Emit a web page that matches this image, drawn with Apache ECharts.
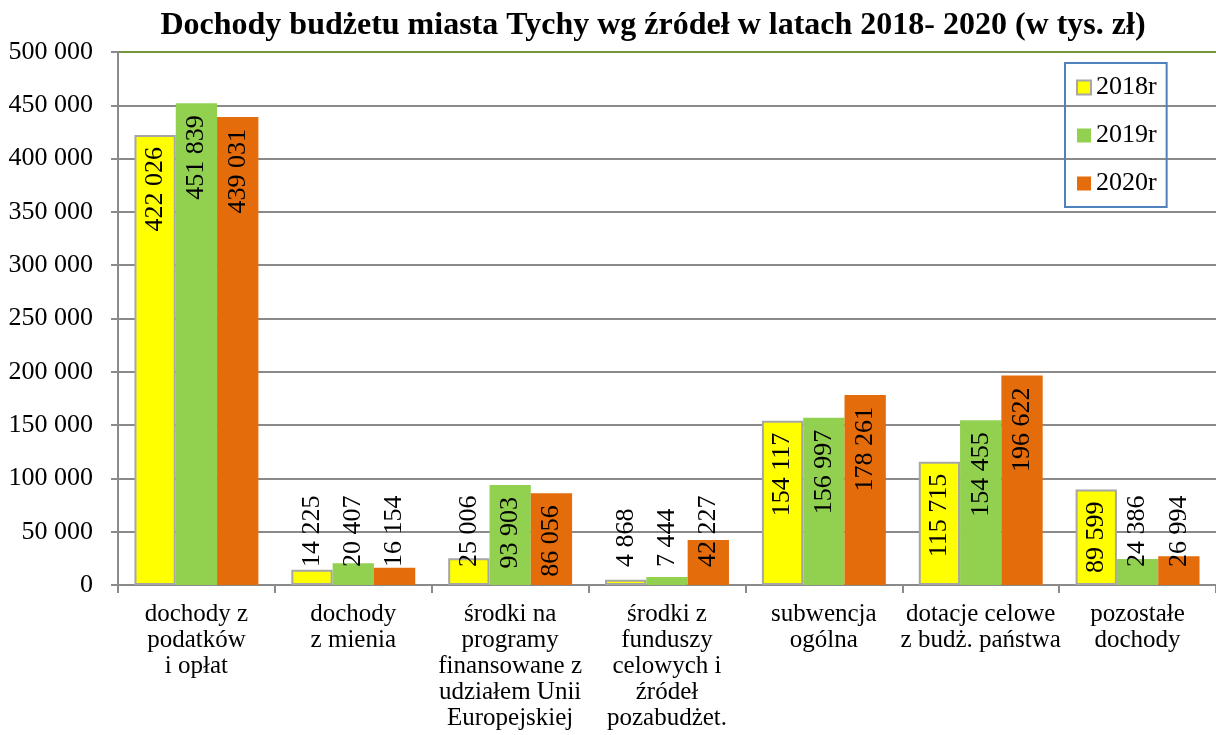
<!DOCTYPE html>
<html>
<head>
<meta charset="utf-8">
<script src="https://cdn.jsdelivr.net/npm/echarts@6/dist/echarts.min.js"></script>
<style>
  html, body { margin: 0; padding: 0; background: #fff; }
  #chart { width: 1216px; height: 735px; }
</style>
</head>
<body>
<div id="chart"></div>
<script>
// kategorie dochodów
var categories = [
  'dochody z\npodatków\ni opłat',
  'dochody\nz mienia',
  'środki na\nprogramy\nfinansowane z\nudziałem Unii\nEuropejskiej',
  'środki z\nfunduszy\ncelowych i\nźródeł\npozabudżet.',
  'subwencja\nogólna',
  'dotacje celowe\nz budż. państwa',
  'pozostałe\ndochody'
];
var seriesNames = ['2018r', '2019r', '2020r'];
var values2018 = [422026, 14225, 25006, 4868, 154117, 115715, 89599];
var values2019 = [451839, 20407, 93903, 7444, 156997, 154455, 24386];
var values2020 = [439031, 16154, 86056, 42227, 178261, 196622, 26994];
var yTicks = [0, 50000, 100000, 150000, 200000, 250000, 300000, 350000, 400000, 450000, 500000];

var FONT = '"Liberation Serif", "Times New Roman", serif';

function fmt(v) {
  return String(v).replace(/\B(?=(\d{3})+(?!\d))/g, ' ');
}

// etykiety: duże słupki w środku u góry, małe nad osią
function withLabels(arr) {
  return arr.map(function (v) {
    var small = v < 60000;
    return {
      value: v,
      label: small
        ? { position: 'insideBottom', align: 'left', verticalAlign: 'middle', distance: 18 }
        : { position: 'insideTop', align: 'right', verticalAlign: 'middle', distance: 12 }
    };
  });
}

function makeSeries(name, data, color, border) {
  return {
    name: name,
    type: 'bar',
    data: withLabels(data),
    barGap: '0%',
    barCategoryGap: '21%',
    itemStyle: {
      color: color,
      borderColor: border || color,
      borderWidth: border ? 2 : 0
    },
    label: {
      show: true,
      rotate: 90,
      color: '#000',
      fontFamily: FONT,
      fontSize: 26,
      formatter: function (p) { return fmt(p.value); }
    }
  };
}

var myChart = echarts.init(document.getElementById('chart'));

var gridColors = yTicks.map(function (t, i) {
  return i === yTicks.length - 1 ? '#77933c' : '#8a8a8a';
});

var option = {
  backgroundColor: '#fff',
  animation: false,
  title: {
    text: 'Dochody budżetu miasta Tychy wg źródeł w latach 2018- 2020 (w tys. zł)',
    left: 648,
    textAlign: 'center',
    top: 5,
    textStyle: {
      fontFamily: FONT,
      fontWeight: 'bold',
      fontSize: 32,
      color: '#000'
    }
  },
  legend: {
    orient: 'vertical',
    left: 1065,
    top: 63,
    data: seriesNames,
    icon: 'rect',
    itemWidth: 14,
    itemHeight: 14,
    itemGap: 21,
    padding: [11, 10, 10, 11],
    borderColor: '#4f81bd',
    borderWidth: 2,
    textStyle: {
      fontFamily: FONT,
      fontSize: 26,
      lineHeight: 27,
      color: '#000'
    }
  },
  grid: {
    left: 118,
    top: 52,
    width: 1098,
    bottom: 150,
    containLabel: false
  },
  xAxis: {
    type: 'category',
    data: categories,
    axisLine: { lineStyle: { color: '#8a8a8a', width: 2 } },
    axisTick: { show: true, length: 8, lineStyle: { color: '#8a8a8a', width: 2 } },
    axisLabel: {
      interval: 0,
      margin: 16,
      fontFamily: FONT,
      fontSize: 25,
      lineHeight: 26,
      color: '#000'
    }
  },
  yAxis: {
    type: 'value',
    min: 0,
    max: 500000,
    interval: 50000,
    axisLine: { show: true, lineStyle: { color: '#8a8a8a', width: 2 } },
    axisTick: { show: true, length: 7, lineStyle: { color: '#8a8a8a', width: 2 } },
    axisLabel: {
      margin: 25,
      fontFamily: FONT,
      fontSize: 26,
      color: '#000',
      formatter: function (v) { return fmt(v); }
    },
    splitLine: { show: true, lineStyle: { color: gridColors, width: 2 } }
  },
  series: [
    makeSeries(seriesNames[0], values2018, '#ffff00', '#a6a6a6'),
    makeSeries(seriesNames[1], values2019, '#92d050'),
    makeSeries(seriesNames[2], values2020, '#e46c0a')
  ]
};

myChart.setOption(option);
</script>
</body>
</html>
